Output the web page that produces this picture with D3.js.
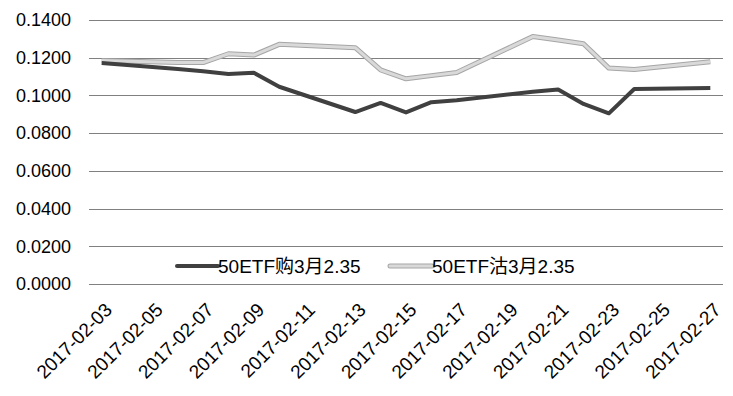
<!DOCTYPE html>
<html>
<head>
<meta charset="utf-8">
<script src="https://cdn.jsdelivr.net/npm/d3@7"></script>
<style>
  body { margin: 0; background: #fff; }
  text { font-family: "Liberation Sans", "Noto Sans CJK SC", sans-serif; fill: #000; }
</style>
</head>
<body>
<svg width="733" height="396"></svg>
<script>
  const dates = ['2017-02-03', '2017-02-06', '2017-02-07', '2017-02-08', '2017-02-09', '2017-02-10',
    '2017-02-13', '2017-02-14', '2017-02-15', '2017-02-16', '2017-02-17',
    '2017-02-20', '2017-02-21', '2017-02-22', '2017-02-23', '2017-02-24', '2017-02-27'];
  const callValues = [0.1172, 0.1140, 0.1128, 0.1114, 0.1120, 0.1046,
    0.0912, 0.0960, 0.0910, 0.0964, 0.0975,
    0.1020, 0.1032, 0.0955, 0.0905, 0.1034, 0.1039];
  const putValues = [0.1185, 0.1174, 0.1174, 0.1221, 0.1214, 0.1271,
    0.1253, 0.1135, 0.1088, 0.1105, 0.1122,
    0.1312, 0.1294, 0.1274, 0.1145, 0.1138, 0.1179];
  const yTicks = [0, 0.02, 0.04, 0.06, 0.08, 0.10, 0.12, 0.14];
  const seriesNames = ['50ETF购3月2.35', '50ETF沽3月2.35'];

  const svg = d3.select('svg');
  const parse = d3.timeParse('%Y-%m-%d');
  const day = 864e5;
  const margin = { left: 89, right: 10, top: 20, bottom: 112 };
  const width = +svg.attr('width');
  const height = +svg.attr('height');

  const first = parse('2017-02-03'), last = parse('2017-02-27');
  const xScale = d3.scaleTime()
    .domain([new Date(+first - day / 2), new Date(+last + day / 2)])
    .range([margin.left, width - margin.right]);
  const yScale = d3.scaleLinear()
    .domain([0, 0.14])
    .range([height - margin.bottom, margin.top]);

  // gridlines + y labels
  const yAxis = d3.axisLeft(yScale)
    .tickValues(yTicks)
    .tickFormat(d3.format('.4f'))
    .tickSize(-(width - margin.left - margin.right))
    .tickPadding(18);
  const yG = svg.append('g')
    .attr('transform', `translate(${margin.left},0)`)
    .call(yAxis);
  yG.select('.domain').remove();
  yG.selectAll('line').attr('stroke', '#808080').attr('shape-rendering', 'crispEdges');
  yG.selectAll('text').style('font-size', '18px');

  // x labels
  const xTicks = d3.timeDay.range(first, new Date(+last + 1), 2);
  const xAxis = d3.axisBottom(xScale)
    .tickValues(xTicks)
    .tickFormat(d3.timeFormat('%Y-%m-%d'))
    .tickSize(0);
  const xG = svg.append('g')
    .attr('transform', `translate(0,${height - margin.bottom})`)
    .call(xAxis);
  xG.select('.domain').remove();
  xG.selectAll('text')
    .style('font-size', '19px')
    .style('text-anchor', 'end')
    .attr('dx', '0')
    .attr('dy', '0')
    .attr('transform', 'translate(9,25) rotate(-45)');

  const line = d3.line()
    .x((d, i) => xScale(parse(dates[i])))
    .y(d => yScale(d));

  // put series: light gray with darker edges
  svg.append('path').datum(putValues)
    .attr('fill', 'none').attr('stroke', '#a6a6a6').attr('stroke-width', 5)
    .attr('stroke-linejoin', 'round').attr('d', line);
  svg.append('path').datum(putValues)
    .attr('fill', 'none').attr('stroke', '#d9d9d9').attr('stroke-width', 3)
    .attr('stroke-linejoin', 'round').attr('d', line);

  // call series
  svg.append('path').datum(callValues)
    .attr('fill', 'none').attr('stroke', '#404040').attr('stroke-width', 4)
    .attr('stroke-linejoin', 'round').attr('d', line);

  // legend
  const legend = svg.append('g').attr('transform', 'translate(177,266)');
  legend.append('line').attr('x1', 0).attr('x2', 41).attr('y1', 0).attr('y2', 0)
    .attr('stroke', '#404040').attr('stroke-width', 4).attr('stroke-linecap', 'round');
  legend.append('text').attr('x', 41).attr('y', 7).style('font-size', '19px').text(seriesNames[0]);
  legend.append('line').attr('x1', 213).attr('x2', 255).attr('y1', 0).attr('y2', 0)
    .attr('stroke', '#a6a6a6').attr('stroke-width', 5).attr('stroke-linecap', 'round');
  legend.append('line').attr('x1', 213).attr('x2', 255).attr('y1', 0).attr('y2', 0)
    .attr('stroke', '#d9d9d9').attr('stroke-width', 3).attr('stroke-linecap', 'round');
  legend.append('text').attr('x', 255).attr('y', 7).style('font-size', '19px').text(seriesNames[1]);
</script>
</body>
</html>
